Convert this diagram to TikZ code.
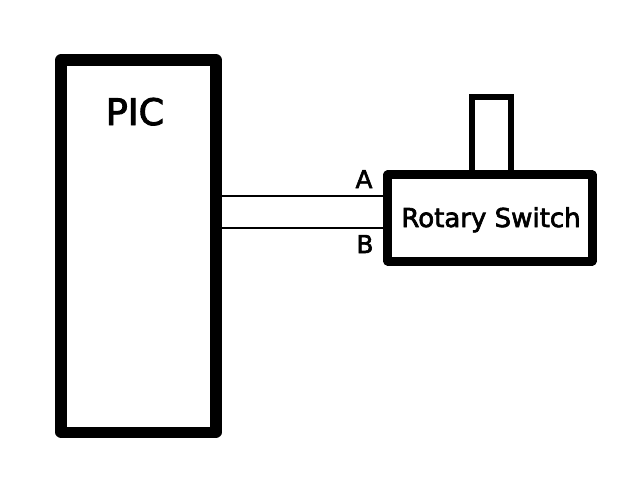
\documentclass[tikz,border=0pt]{standalone}
\usepackage{fontspec}
\setmainfont{DejaVu Sans}
\newfontfamily\labelfont{DejaVu Sans}[FakeBold=2.5]
\usepackage{tikz}
\usetikzlibrary{calc,positioning}
\tikzset{
	chipbox/.style={draw, line width=7.9pt, line join=round, minimum width=3.875cm, minimum height=9.3cm, inner sep=0},
	switchbox/.style={draw, line width=6.4pt, line join=round, minimum width=5.1cm, minimum height=2.15cm, inner sep=0},
	shaftbox/.style={draw, line width=3.6pt, minimum width=0.975cm, minimum height=1.95cm, inner sep=0},
	pinlabel/.style={inner sep=0, font=\labelfont\fontsize{17.5}{20}\selectfont, anchor=base},
	wire/.style={line width=1.5pt}
}

\begin{document}
\begin{tikzpicture}[x=0.025cm, y=-0.025cm]
			%%%%% START %%%%%
			
			\useasboundingbox (0, 0) rectangle (620, 496);
			
			\node[shaftbox] (shaft) at (491.5, 136) {};
			\node[chipbox] (pic) at (138.5, 246) {};
			\node[switchbox, fill=white] (sw) at (490, 218) {};
			
			\node[inner sep=0, anchor=base, font=\labelfont\fontsize{26}{30}\selectfont] (piclabel) at (135, 125) {PIC};
			\node[inner sep=0, anchor=base, font=\labelfont\fontsize{18.5}{22}\selectfont] (swlabel) at (491, 227) {Rotary Switch};
			
			\coordinate (a) at ([yshift=0.55cm]sw.west);
			\coordinate (b) at ([yshift=-0.25cm]sw.west);
			\draw[wire] (a) -- (a -| pic.east);
			\draw[wire] (b) -- (b -| pic.east);
			
			\node[pinlabel] (alabel) at (364, 188) {A};
			\node[pinlabel] (blabel) at (365, 253) {B};
			
			%%%%% END %%%%%
		\end{tikzpicture}
\end{document}
